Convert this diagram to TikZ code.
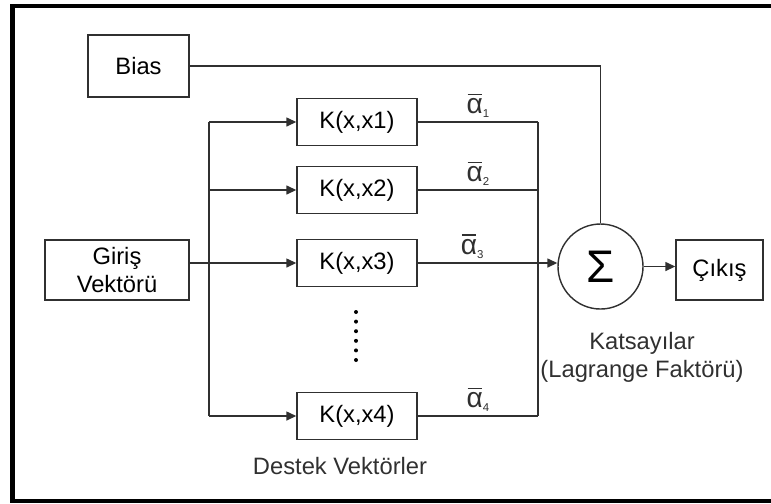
\documentclass[tikz,border=0pt]{standalone}
\usepackage{fontspec}
\setmainfont{Liberation Sans}
\usepackage{tikz}
\usetikzlibrary{calc,arrows.meta,positioning}
\definecolor{ink}{HTML}{303030}
\definecolor{frame}{HTML}{000000}
\newcommand{\labfont}{\fontsize{13.5}{16}\selectfont}
% alpha with a bar and a small index
\newcommand{\abar}[1]{{\fontsize{16}{16}\selectfont\rlap{\hspace{0.04em}\rule[0.66em]{0.5em}{0.7pt}}α\raisebox{-0.3ex}{\fontsize{6.5}{6.5}\selectfont #1}}}
\tikzset{
  box/.style={draw=ink, line width=0.8pt, inner sep=0pt, align=center, font=\labfont},
  kbox/.style={box, minimum width=2.4cm, minimum height=0.94cm},
  conn/.style={draw=ink, line width=0.8pt},
  arr/.style={conn, -{Triangle[length=2mm,width=1.8mm]}},
  lab/.style={font=\labfont, text=ink, align=center},
  alab/.style={text=ink, inner sep=1pt},
  dot/.style={circle, fill=black, inner sep=0pt, minimum size=0.8mm},
}
\begin{document}
\begin{tikzpicture}
  \useasboundingbox (0,0) rectangle (15.42,-10.06);
  % outer frame, right side runs off the page
  \draw[frame, line width=2.3pt] (16,-0.12) -- (0.25,-0.12) -- (0.25,-10.02) -- (16,-10.02);

  \node[box, minimum width=2.02cm, minimum height=1.24cm] (bias) at (2.77,-1.32) {Bias};
  \node[box, minimum width=2.88cm, minimum height=1.2cm] (giris) at (2.34,-5.40) {Giriş\\Vektörü};
  \node[kbox] (k1) at (7.14,-2.44) {K(x,x1)};
  \node[kbox] (k2) at (7.14,-3.80) {K(x,x2)};
  \node[kbox] (k3) at (7.14,-5.26) {K(x,x3)};
  \node[kbox] (k4) at (7.14,-8.32) {K(x,x4)};
  \node[draw=ink, line width=0.8pt, circle, minimum size=1.7cm, inner sep=0pt,
        font=\fontsize{26}{26}\selectfont] (sum) at (12.01,-5.33) {Σ};
  \node[box, minimum width=1.74cm, minimum height=1.2cm] (cikis) at (14.39,-5.40) {Çıkış};

  % input bus and collector
  \coordinate (bt) at (4.18,-2.44);
  \coordinate (bb) at (4.18,-8.32);
  \coordinate (ct) at (10.76,-2.44);
  \coordinate (cb) at (10.76,-8.32);
  \draw[conn] (bt) -- (bb);
  \draw[conn] (ct) -- (cb);

  \draw[arr] (giris.east |- k3.west) -- (k3.west);
  \foreach \k in {k1,k2,k4}
    \draw[arr] (bt |- \k.west) -- (\k.west);

  \draw[conn] (k1.east) -- node[alab, above=1pt] {\abar{1}} (ct);
  \draw[conn] (k2.east) -- node[alab, above=1pt] {\abar{2}} (ct |- k2.east);
  \draw[arr] (k3.east) -- node[alab, above=1pt, pos=0.39] {\abar{3}} (k3.east -| sum.west);
  \draw[conn] (k4.east) -- node[alab, above=1pt] {\abar{4}} (cb);

  \draw[conn] (bias.east) -| (sum.north);
  \draw[arr] (sum.east) -- (sum.east -| cikis.west);

  \foreach \i in {0,...,5}
    \node[dot] (d\i) at (7.12,-6.24-0.192*\i) {};

  \node[lab] (kats) at (12.84,-7.15) {Katsayılar\\(Lagrange Faktörü)};
  \node[lab] (destek) at (6.80,-9.32) {Destek Vektörler};
\end{tikzpicture}
\end{document}
